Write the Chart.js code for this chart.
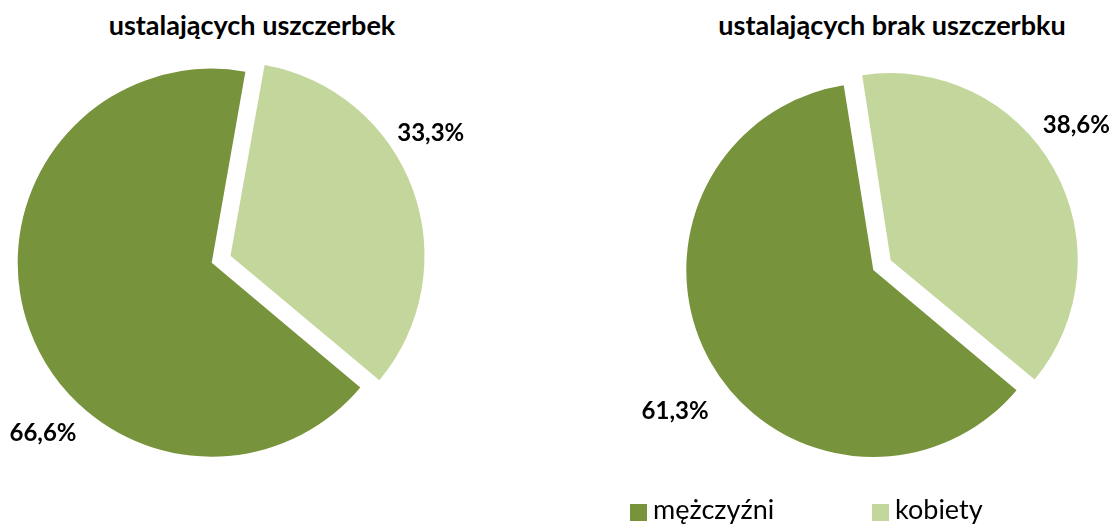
<!DOCTYPE html>
<html>
<head>
<meta charset="utf-8">
<script src="https://cdn.jsdelivr.net/npm/chart.js@4.4.1/dist/chart.umd.min.js"></script>
<style>
  body { margin: 0; background: #fff; overflow: hidden; }
  #page { position: relative; width: 1117px; height: 525px; font-family: Lato, sans-serif; color: #000; }
  canvas { position: absolute; top: 0; }
  .title { position: absolute; top: 11px; width: 500px; text-align: center; font-weight: bold; font-size: 27px; line-height: 27px; white-space: nowrap; }
  .leg { position: absolute; top: 495px; font-size: 27px; line-height: 27px; white-space: nowrap; }
  .leg i { position: absolute; left: 0; top: 9px; width: 17px; height: 17px; }
  .leg span { position: absolute; left: 23px; top: 0; }
</style>
</head>
<body>
<div id="page">
  <div class="title" id="t1" style="left:2px"></div>
  <div class="title" id="t2" style="left:642px"></div>
  <canvas id="pie1" width="600" height="525" style="left:-40px"></canvas>
  <canvas id="pie2" width="537" height="525" style="left:580px"></canvas>
  <div id="legend"></div>
</div>
<script>
const categories = ['mężczyźni', 'kobiety'];
const uszczerbek = [66.6, 33.3];
const brakUszczerbku = [61.3, 38.6];
const titles = ['ustalających uszczerbek', 'ustalających brak uszczerbku'];
const colors = ['#77933C', '#C3D69B'];

document.getElementById('t1').textContent = titles[0];
document.getElementById('t2').textContent = titles[1];

// legend
const legendX = [630, 872];
const legend = document.getElementById('legend');
categories.forEach((c, i) => {
  const d = document.createElement('div');
  d.className = 'leg';
  d.style.left = legendX[i] + 'px';
  d.innerHTML = '<i style="background:' + colors[i] + '"></i><span>' + c + '</span>';
  legend.appendChild(d);
});

// keep exploded slice at the same radius as the others
const keepRadius = {
  id: 'keepRadius',
  beforeDatasetsDraw(chart) {
    const meta = chart.getDatasetMeta(0);
    const r = meta.controller.outerRadius;
    meta.data.forEach(arc => {
      const off = (arc.options.offset || 0) / 4;
      const fix = 1 - Math.sin(Math.min(Math.PI, arc.circumference));
      arc.outerRadius = r - off * fix;
    });
  }
};

// percentage labels
const pctLabels = {
  id: 'pctLabels',
  afterDatasetsDraw(chart, args, opts) {
    const ctx = chart.ctx;
    const meta = chart.getDatasetMeta(0);
    const values = chart.data.datasets[0].data;
    ctx.save();
    ctx.font = 'bold 24px Lato';
    ctx.fillStyle = '#000';
    ctx.textAlign = 'center';
    ctx.textBaseline = 'middle';
    meta.data.forEach((arc, i) => {
      const p = opts.pos[i];
      const a = p.angle * Math.PI / 180;
      const txt = values[i].toFixed(1).replace('.', ',') + '%';
      ctx.fillText(txt, arc.x + p.dist * Math.sin(a), arc.y - p.dist * Math.cos(a) + 1);
    });
    ctx.restore();
  }
};

function makePie(id, values, padding, labelPos) {
  return new Chart(document.getElementById(id), {
    type: 'pie',
    data: {
      labels: categories,
      datasets: [{
        data: values,
        backgroundColor: colors,
        borderWidth: 0,
        offset: [0, 80],
        hoverOffset: 0,
        clip: false
      }]
    },
    options: {
      responsive: false,
      animation: false,
      events: [],
      rotation: 130,
      layout: { padding },
      plugins: {
        legend: { display: false },
        tooltip: { enabled: false },
        pctLabels: { pos: labelPos }
      }
    },
    plugins: [keepRadius, pctLabels]
  });
}

makePie('pie1', uszczerbek,
  { left: 17.7, top: 28.7, right: 114.3, bottom: 28.3 },
  [{ angle: 224.9, dist: 239 }, { angle: 59.2, dist: 255 }]);

makePie('pie2', brakUszczerbku,
  { left: 66.3, top: 43, right: 16.7, bottom: 28 },
  [{ angle: 234.8, dist: 242.6 }, { angle: 54.3, dist: 250 }]);
</script>
</body>
</html>
